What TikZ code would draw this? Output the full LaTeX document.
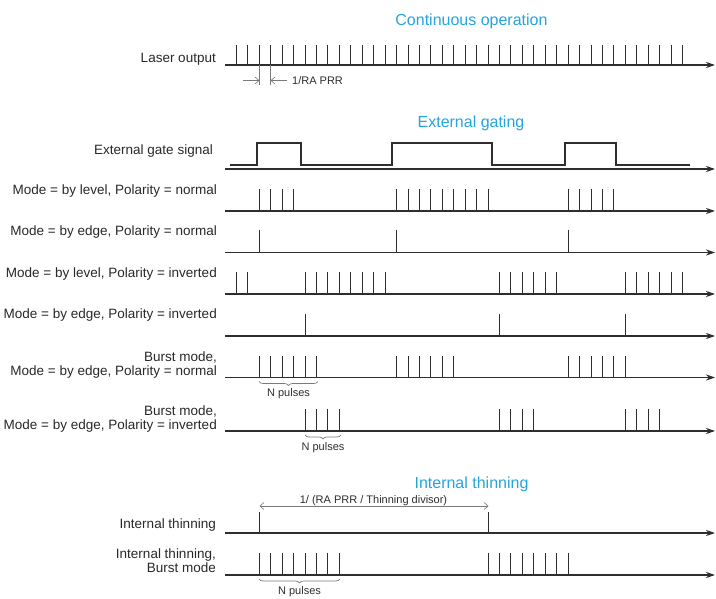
\documentclass[tikz,border=0pt]{standalone}
\usepackage{fontspec}
\setmainfont{Liberation Sans}
\usetikzlibrary{arrows.meta,decorations.pathreplacing}
\definecolor{ttl}{HTML}{27A4DD}
\definecolor{ln}{HTML}{2E2E2E}
\definecolor{dim}{HTML}{7A7A7A}
\newcommand{\pulserow}[3]{\foreach \k in {#3} \draw[pulse] ({round(236+11.436*\k)+0.5},#1) -- ++(0,-#2);}
\begin{document}
\begin{tikzpicture}[x=1pt,y=-1pt,
  axisline/.style={draw=ln,line width=1.2pt,-{Stealth[length=9pt,width=6pt]}},
  pulse/.style={draw=ln,line width=1.4pt},
  gateline/.style={draw=ln,line width=1.2pt},
  lbl/.style={anchor=base east,font=\fontsize{13.5}{14}\selectfont,align=right,inner sep=0pt,text=ln!90!black},
  ttlstyle/.style={anchor=base,font=\fontsize{16}{18}\selectfont,text=ttl,inner sep=0pt},
  small/.style={font=\fontsize{11}{12}\selectfont,text=ln,inner sep=0pt},
  dimline/.style={draw=dim,line width=0.6pt},
  dimarrow/.style={draw=dim,line width=0.6pt,-{Straight Barb[length=4pt,width=7pt]}},
  bracestyle/.style={draw=dim,line width=0.7pt,decorate,decoration={brace,mirror,amplitude=4pt}}]
\useasboundingbox (0,0) rectangle (716,599);
\fill[white] (0,0) rectangle (716,599);

% titles
\node[ttlstyle] (t1) at (471.5,26) {Continuous operation};
\node[ttlstyle] (t2) at (471,128) {External gating};
\node[ttlstyle] (t3) at (471.5,488) {Internal thinning};

% labels
\node[lbl] (l0) at (216,63) {Laser output};
\node[lbl] (l1) at (213,155) {External gate signal};
\node[lbl] (l2) at (217,195) {Mode = by level, Polarity = normal};
\node[lbl] (l3) at (217,236) {Mode = by edge, Polarity = normal};
\node[lbl] (l4) at (217,277.7) {Mode = by level, Polarity = inverted};
\node[lbl] (l5) at (217,319) {Mode = by edge, Polarity = inverted};
\node[lbl] (l6) at (217,375.7) {Burst mode,\\Mode = by edge, Polarity = normal};
\node[lbl] (l7) at (217,429) {Burst mode,\\Mode = by edge, Polarity = inverted};
\node[lbl] (l8) at (216,528) {Internal thinning};
\node[lbl] (l9) at (216,572) {Internal thinning,\\Burst mode};

% axes
\foreach \n/\yy in {a0/65,a1/169,a2/211,a3/252.5,a4/294,a5/336,a6/377.5,a7/431,a8/533,a9/575}{
  \coordinate (\n s) at (225,\yy);
  \coordinate (\n e) at (715,\yy);
  \draw[axisline] (\n s) -- (\n e);
}

% laser output
\pulserow{65}{20}{0,...,39}
\coordinate (e1) at (259.5,65);
\coordinate (e2) at (270.5,65);
\draw[dimline] (e1) -- ++(0,20) coordinate (e1b);
\draw[dimline] (e2) -- ++(0,20) coordinate (e2b);
\coordinate (d1) at (243,80.5);
\coordinate (d2) at (287,80.5);
\draw[dimarrow] (d1) -- (e1 |- d1);
\draw[dimarrow] (d2) -- (e2 |- d2);
\node[small,anchor=base west] (rr) at (292,85) {1/RA PRR};

% gate
\draw[gateline] (230,165) -- (257,165) -- (257,143) -- (301,143) -- (301,165)
  -- (392,165) -- (392,143) -- (492,143) -- (492,165) -- (565,165) -- (565,143)
  -- (616,143) -- (616,165) -- (690,165);

% rows
\pulserow{211}{22}{2,...,5,14,15,...,22,29,30,...,33}
\pulserow{252.5}{22}{2,14,29}
\pulserow{294}{22}{0,1,6,7,...,13,23,24,...,28,34,35,...,39}
\pulserow{336}{22}{6,23,34}
\pulserow{377.5}{22}{2,...,7,14,15,...,19,29,30,...,34}
\pulserow{431}{22}{6,...,9,23,24,25,26,34,35,36,37}
\pulserow{533}{21}{2,22}
\pulserow{575}{22}{2,...,9,22,23,...,29}

% braces
\draw[bracestyle] (259,381.5) -- (318,381.5) node[small,midway,below=7pt] (n1) {N pulses};
\draw[bracestyle] (305,435) -- (341,435) node[small,midway,below=7pt] (n2) {N pulses};
\draw[bracestyle] (259,579) -- (340,579) node[small,midway,below=7pt] (n3) {N pulses};

% thinning dimension
\coordinate (p1) at (259.5,506);
\coordinate (p2) at (488.5,506);
\draw[dim,line width=0.6pt,{Straight Barb[length=4pt,width=7pt]}-{Straight Barb[length=4pt,width=7pt]}] (p1) -- (p2);
\node[small,anchor=base] (dl) at (373.5,503) {1/ (RA PRR / Thinning divisor)};
\end{tikzpicture}
\end{document}
